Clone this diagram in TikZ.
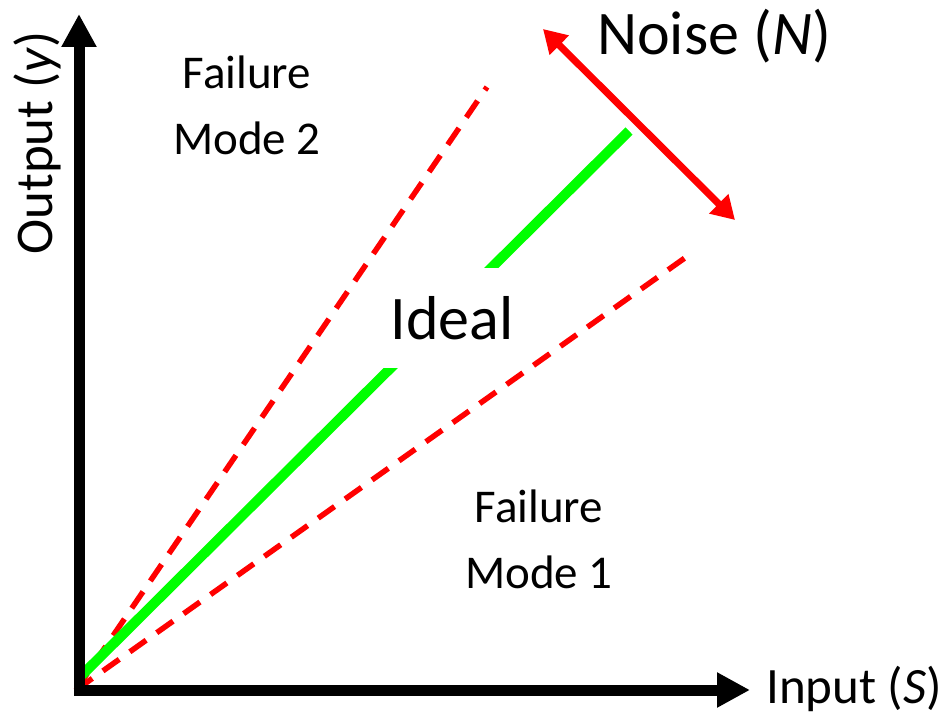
\documentclass[tikz,border=0pt]{standalone}
\usepackage{fontspec}
\setmainfont{Carlito}
\usetikzlibrary{arrows.meta}
\begin{document}
\begin{tikzpicture}[x=1pt,y=-1pt,
  axis/.style={line width=11pt,draw=black,-{Triangle[length=33pt,width=33pt]}},
  bound/.style={draw=red,line width=5.5pt,dash pattern=on 20pt off 13pt},
  ideal/.style={draw=green,line width=10pt},
  noisearrow/.style={draw=red,line width=7pt,{Triangle[length=23pt,width=26pt]}-{Triangle[length=23pt,width=26pt]}},
  lbl/.style={inner sep=0pt,text=black}]
\useasboundingbox (0,0) rectangle (950,714);
\coordinate (o) at (76,690);
\coordinate (up) at (487,87);
\coordinate (lo) at (689,255);
\coordinate (gs) at (82,675);
\coordinate (ge) at (629,131);
\coordinate (vb) at (79,695);
\coordinate (vt) at (79,14);
\coordinate (hb) at (74,690);
\coordinate (ht) at (750,690);
\coordinate (na) at (543,29);
\coordinate (nb) at (735,220);
\draw[bound] (o) -- (up);
\draw[bound] (o) -- (lo);
\draw[ideal] (gs) -- (ge);
\node[fill=white,inner sep=0pt,minimum width=140pt,minimum height=100pt,font=\fontsize{62}{74}\selectfont] (idl) at (452,318) {Ideal};
\draw[axis] (vb) -- (vt);
\draw[axis] (hb) -- (ht);
\draw[noisearrow] (na) -- (nb);
\node[lbl,anchor=base west,font=\fontsize{62}{74}\selectfont] (noise) at (597,55) {Noise (\textit{N})};
\node[lbl,anchor=base west,font=\fontsize{51}{60}\selectfont] (inp) at (766,703) {Input (\textit{S})};
\node[lbl,anchor=base,rotate=90,font=\fontsize{53}{62}\selectfont] (outp) at (52,143) {Output (\textit{y})};
\node[lbl,align=center,font=\fontsize{47}{66}\selectfont] (fm2) at (247,105) {Failure\\Mode 2};
\node[lbl,align=center,font=\fontsize{47}{66}\selectfont] (fm1) at (539,539) {Failure\\Mode 1};
\end{tikzpicture}
\end{document}
